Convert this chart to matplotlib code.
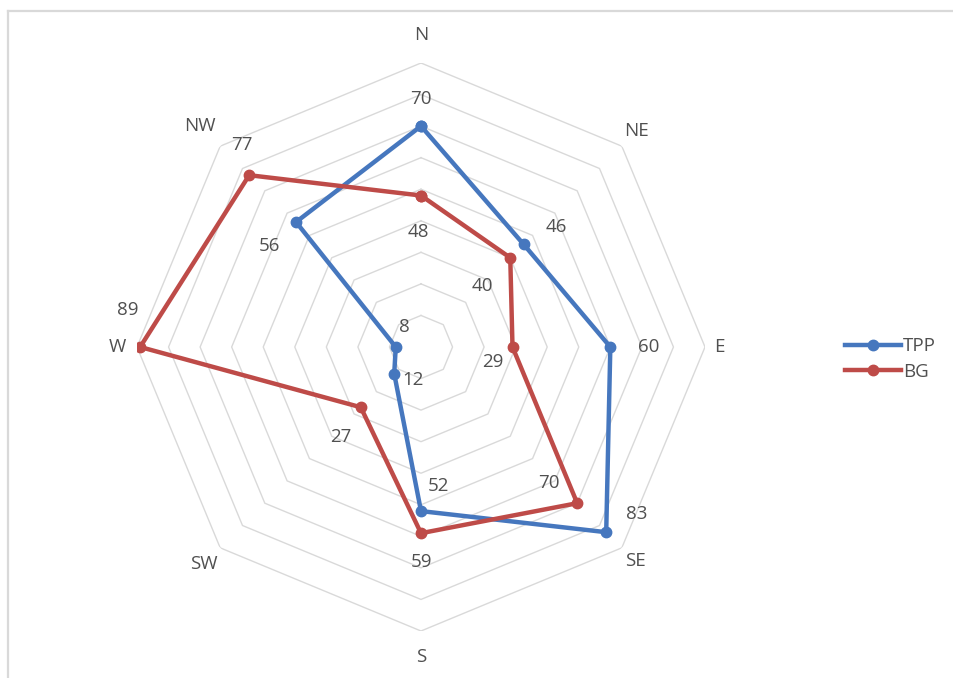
import numpy as np
import matplotlib
matplotlib.use("Agg")
import matplotlib.pyplot as plt
from matplotlib.lines import Line2D

# data
directions = ["N", "NE", "E", "SE", "S", "SW", "W", "NW"]
tpp = [70, 46, 60, 83, 52, 12, 8, 56]
bg = [48, 40, 29, 70, 59, 27, 89, 77]
ring_levels = [10, 20, 30, 40, 50, 60, 70, 80, 90]

# label placement (style only)
dir_label_r = [98.9, 96.6, 94.4, 96.0, 98.2, 97.3, 96.3, 99.2]
tpp_offsets = [(0, 27), (33, 17), (38, 0), (30, 18), (17, 25), (19, -6), (9, 20), (-27, -24)]
bg_offsets = [(-3, -36), (-28, -28), (-20, -15), (-28, 20), (0, -29), (-20, -30), (-12, 37), (-7, 30)]

blue = "#4677BE"
red = "#BE4B48"
text_col = "#505050"
plt.rcParams["font.family"] = ["Open Sans", "DejaVu Sans"]

fig = plt.figure(figsize=(9.54, 6.78), dpi=100)

# chart area border (only top and left edges are visible in the crop)
bx, by = 8 / 954, 1 - 11 / 678
fig.add_artist(Line2D([bx, 1.0], [by, by], transform=fig.transFigure,
                      color="#D9D9D9", lw=1.6))
fig.add_artist(Line2D([bx, bx], [0.0, by], transform=fig.transFigure,
                      color="#D9D9D9", lw=1.6))

ax = fig.add_axes([0.1436, 0.0693, 0.5954, 0.8378], projection="polar")
ax.set_theta_zero_location("N")
ax.set_theta_direction(-1)
ax.set_ylim(0, 90)
ax.grid(False)
ax.spines["polar"].set_visible(False)
ax.set_xticks([])
ax.set_yticks([])
ax.patch.set_alpha(0)

angles = np.linspace(0, 2 * np.pi, len(directions), endpoint=False)
closed = np.append(angles, angles[0])

# octagon grid
for lev in ring_levels:
    ax.plot(closed, [lev] * len(closed), color="#D9D9D9", lw=1.0, zorder=1)

for name, a, r in zip(directions, angles, dir_label_r):
    ax.text(a, r, name, ha="center", va="center", fontsize=13.5, color=text_col)

for vals, col, label, offs in [(tpp, blue, "TPP", tpp_offsets), (bg, red, "BG", bg_offsets)]:
    ax.plot(closed, vals + vals[:1], color=col, lw=3.2, marker="o", markersize=7.5,
            label=label, zorder=3)
    for a, v, (dx, dy) in zip(angles, vals, offs):
        ax.annotate(str(v), (a, v), xytext=(dx, dy), textcoords="offset pixels",
                    ha="center", va="center", fontsize=13.5, color=text_col)

leg = fig.legend(loc="center left", bbox_to_anchor=(828 / 954, 1 - 359 / 678),
                 frameon=False, fontsize=13.5, handlelength=3.0, handletextpad=0.1,
                 labelspacing=0.4)
for t in leg.get_texts():
    t.set_color(text_col)

fig.savefig("out.png", dpi=100)
